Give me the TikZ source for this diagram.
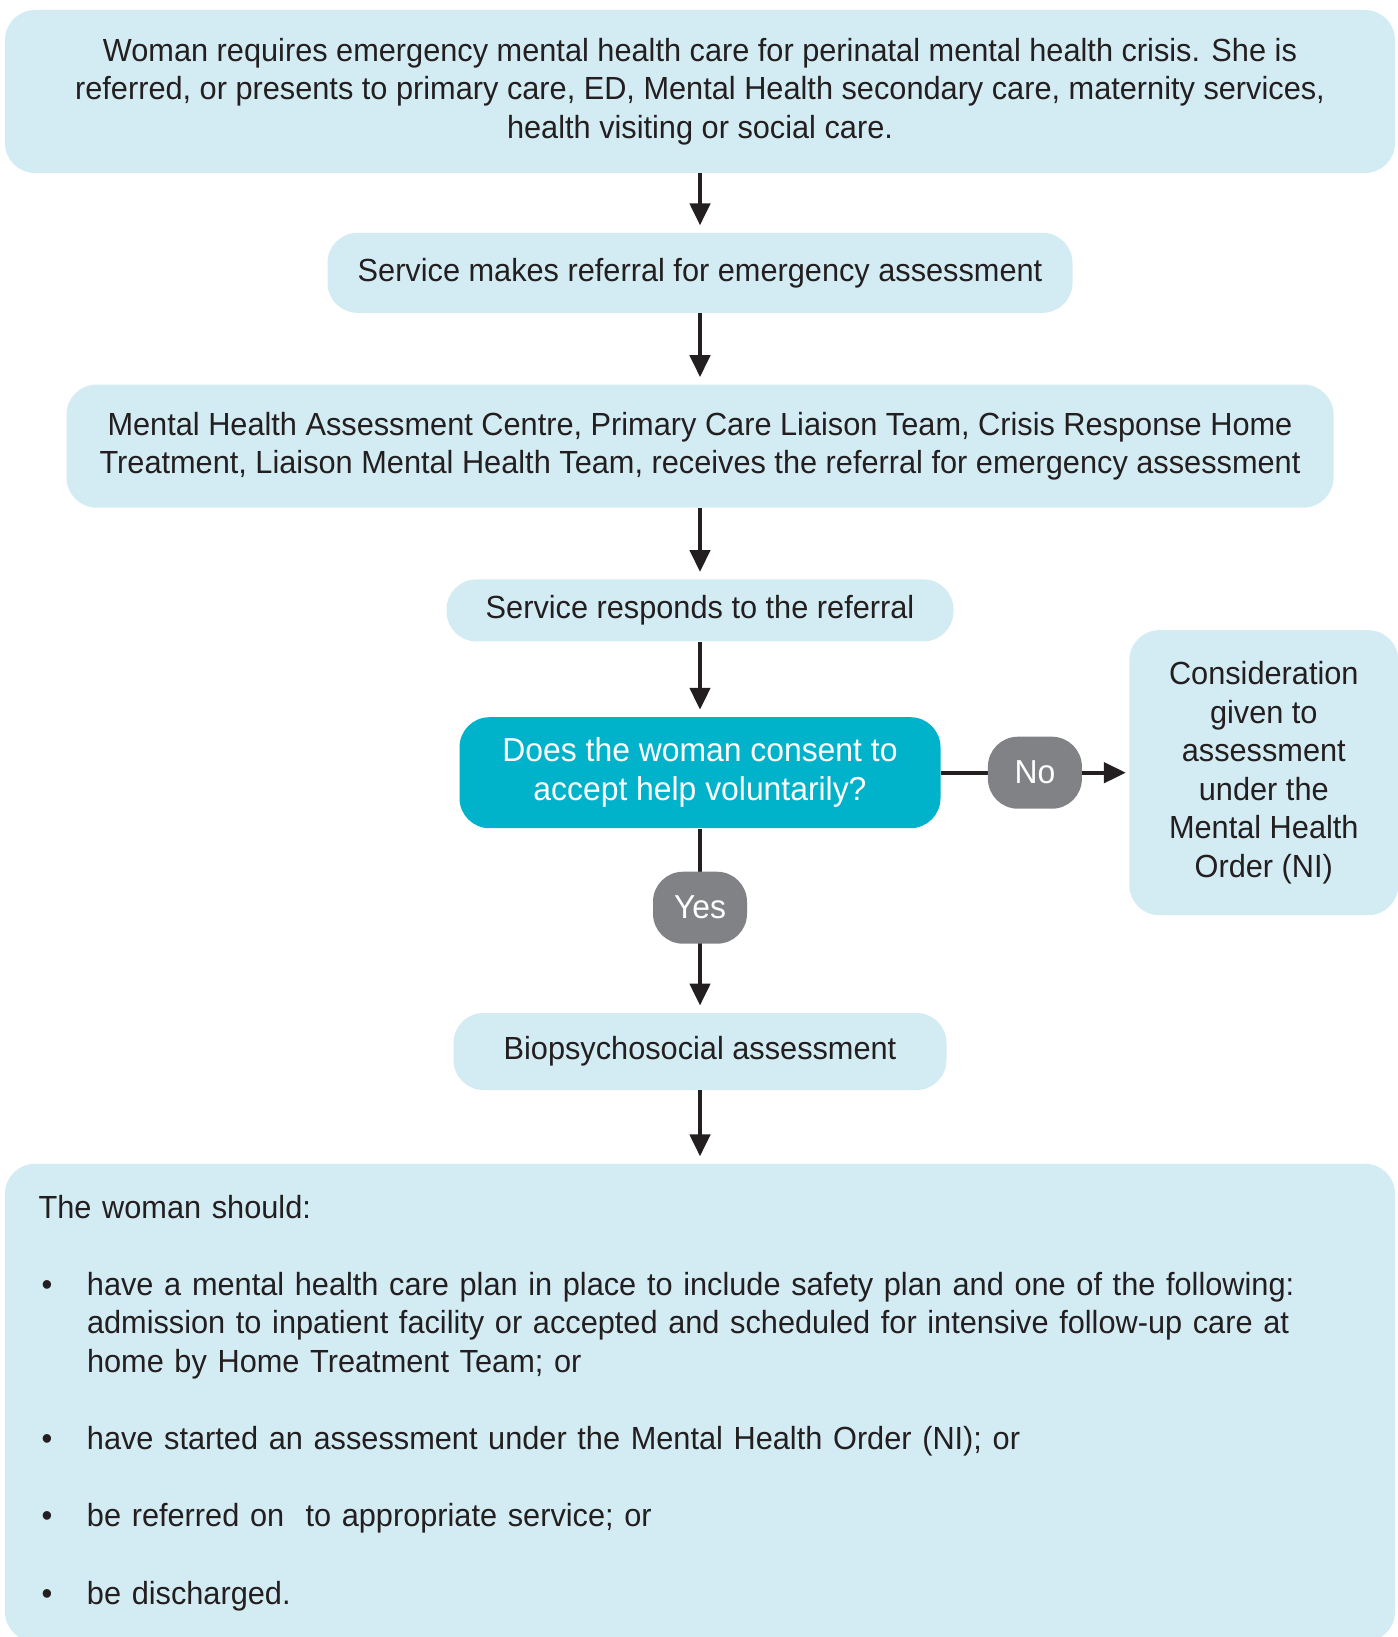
\documentclass[tikz,border=0pt]{standalone}
\usepackage{fontspec}
\setmainfont{Liberation Sans}[FakeStretch=0.96]
\usepackage{tikz}
\usetikzlibrary{positioning, arrows.meta}
\definecolor{paleblue}{HTML}{D3EBF2}
\definecolor{consentteal}{HTML}{00B2CA}
\definecolor{labelgrey}{HTML}{808285}
\definecolor{inkdark}{HTML}{231F20}
\tikzstyle{bluebox} = [rectangle, rounded corners=15pt, fill=paleblue, text=inkdark, align=center, inner sep=4pt]
\tikzstyle{decision} = [rectangle, rounded corners=15pt, fill=consentteal, text=white, align=center, inner sep=4pt]
\tikzstyle{choice} = [rectangle, rounded corners=15pt, fill=labelgrey, text=white, minimum width=47pt, minimum height=36pt]
\tikzstyle{arrow} = [line width=2.2pt, draw=inkdark, -{Triangle[length=11pt,width=10pt]}, shorten >=3.5pt]
\newcommand{\outitem}{\makebox[24.2pt][l]{\hspace{1.5pt}\textbullet}}
\newcommand{\outhang}{\hspace*{24.2pt}}

\begin{document}
\begin{tikzpicture}[every node/.style={font=\fontsize{16}{19.3}\selectfont}]
        \useasboundingbox (0,0) rectangle (698.5pt,-818.5pt);

        \node (start) [bluebox, minimum width=695pt, minimum height=81.5pt] at (350pt,-45.75pt) {Woman requires emergency mental health care for perinatal mental health crisis. She is\\referred, or presents to primary care, ED, Mental Health secondary care, maternity services,\\health visiting or social care.};
        \node (referral) [bluebox, below=29.5pt of start, minimum width=372.5pt, minimum height=40pt] {Service makes referral for emergency assessment};
        \node (receive) [bluebox, below=35.5pt of referral, minimum width=633.5pt, minimum height=61.5pt] {Mental Health Assessment Centre, Primary Care Liaison Team, Crisis Response Home\\Treatment, Liaison Mental Health Team, receives the referral for emergency assessment};
        \node (respond) [bluebox, below=35.5pt of receive, minimum width=253.5pt, minimum height=31pt] {Service responds to the referral};
        \node (consent) [decision, below=37.5pt of respond, minimum width=240.5pt, minimum height=55.5pt, font=\fontsize{16.6}{19.3}\selectfont] {Does the woman consent to\\accept help voluntarily?};
        \node (consider) [bluebox, right=94pt of consent, minimum width=134.5pt, minimum height=142.5pt] {Consideration\\given to\\assessment\\under the\\Mental Health\\Order (NI)};
        \node (bio) [bluebox, below=92pt of consent, minimum width=246.5pt, minimum height=38.5pt] {Biopsychosocial assessment};
        \node (outcome) [bluebox, below=36.5pt of bio, minimum width=695pt, minimum height=239pt, text width=661.4pt, inner xsep=16.8pt, align=left] {The woman should:\\[19.3pt]
                \outitem have a mental health care plan in place to include safety plan and one of the following:\\
                \outhang admission to inpatient facility or accepted and scheduled for intensive follow-up care at\\
                \outhang home by Home Treatment Team; or\\[19.3pt]
                \outitem have started an assessment under the Mental Health Order (NI); or\\[19.3pt]
                \outitem be referred on\ \ to appropriate service; or\\[19.3pt]
                \outitem be discharged.};

        \draw [arrow] (start) -- (referral);
        \draw [arrow] (referral) -- (receive);
        \draw [arrow] (receive) -- (respond);
        \draw [arrow] (respond) -- (consent);
        \draw [arrow, shorten >=1.5pt] (consent) -- node [choice, font=\fontsize{16.6}{19.3}\selectfont] {No} (consider);
        \draw [arrow] (consent) -- node [choice, pos=0.43, font=\fontsize{16.6}{19.3}\selectfont] {Yes} (bio);
        \draw [arrow] (bio) -- (outcome);
\end{tikzpicture}
\end{document}
